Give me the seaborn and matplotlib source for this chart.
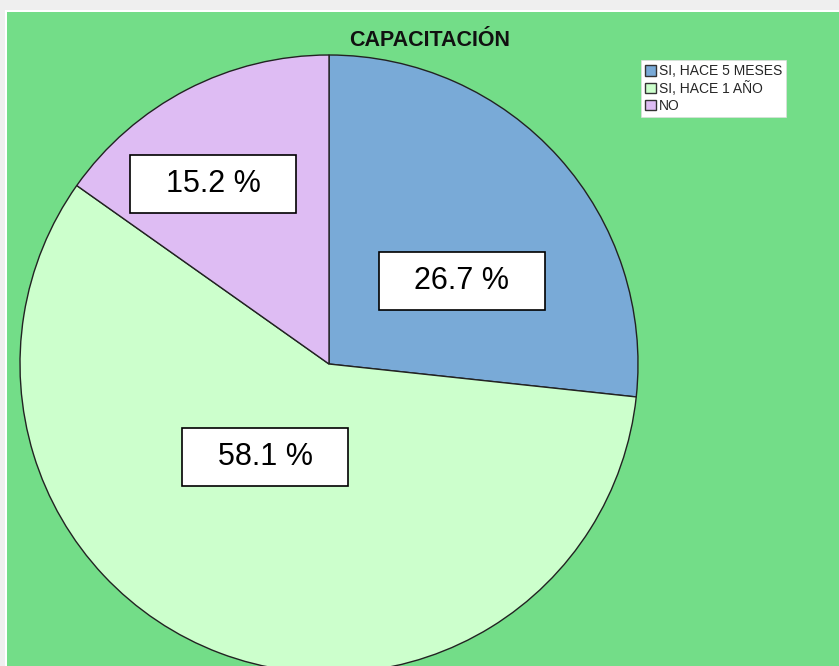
import matplotlib
matplotlib.use("Agg")
import matplotlib.pyplot as plt
from matplotlib.patches import Rectangle, Patch
import seaborn as sns

sns.set_theme(style="white")
plt.rcParams['font.family'] = ['Liberation Sans', 'DejaVu Sans']

# data
categories = ["SI, HACE 5 MESES", "SI, HACE 1 AÑO", "NO"]
percentages = [26.7, 58.1, 15.2]
colors = ["#79AAD7", "#CCFFCC", "#DEBCF3"]
title = "CAPACITACIÓN"

# layout (pixels, y measured from bottom)
W, H = 839, 666
label_pos = [(462, 385), (265, 209), (213, 482)]
box_w, box_h = 166, 58

fig = plt.figure(figsize=(W / 100, H / 100), dpi=100, facecolor="#efefef")
# white frame behind the green panel
frame = fig.add_axes([5 / W, 0, 1 - 5 / W, (H - 10) / H], zorder=-1)
frame.set_axis_off()
frame.add_patch(Rectangle((0, 0), 1, 1, transform=frame.transAxes,
                          facecolor="white", edgecolor="none"))

ax = fig.add_axes([7 / W, 0, 1 - 7 / W, (H - 12) / H])
ax.set_facecolor("#73DD88")

wedges, _ = ax.pie(percentages, colors=colors, startangle=90, counterclock=False,
                   center=(329, 302), radius=309, frame=True,
                   wedgeprops=dict(edgecolor="#222222", linewidth=1.0))
ax.set_xlim(7, W)
ax.set_ylim(0, H - 12)
ax.set_aspect("equal", adjustable="box")
ax.set_xticks([])
ax.set_yticks([])
for s in ax.spines.values():
    s.set_visible(False)

for (x, y), p in zip(label_pos, percentages):
    ax.add_patch(Rectangle((x - box_w / 2, y - box_h / 2), box_w, box_h,
                           facecolor="white", edgecolor="black", linewidth=1.2, zorder=5))
    ax.text(x, y, f"{p:.1f} %", ha="center", va="center", fontsize=22,
            color="black", zorder=6)

ax.text(430, H - 41, title, ha="center", va="center", fontsize=15.5,
        fontweight="bold", color="#111111")

handles = [Patch(facecolor=c, edgecolor="#333333", linewidth=1.0) for c in colors]
leg = ax.legend(handles, categories, loc="upper left",
                bbox_to_anchor=(641 / W, (H - 60) / H), bbox_transform=fig.transFigure,
                prop={'family': 'Liberation Sans', 'size': 10},
                frameon=True, fancybox=False, framealpha=1, edgecolor="#dddddd",
                handlelength=0.8, handleheight=0.8, handletextpad=0.2,
                labelspacing=0.2, borderpad=0.3, borderaxespad=0)
leg.get_frame().set_linewidth(0.5)

fig.savefig("out.png", dpi=100, facecolor=fig.get_facecolor())
